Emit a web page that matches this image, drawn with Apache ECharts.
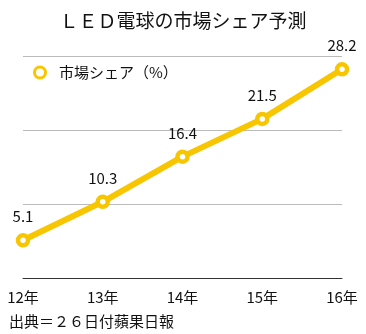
<!DOCTYPE html>
<html>
<head>
<meta charset="utf-8">
<script src="https://cdn.jsdelivr.net/npm/echarts@6/dist/echarts.min.js"></script>
<style>
  html, body { margin: 0; padding: 0; background: #fff; }
  #chart { width: 366px; height: 334px; }
</style>
</head>
<body>
<div id="chart"></div>
<script>
// LED bulb market share forecast (%)
const years = ['12年', '13年', '14年', '15年', '16年'];
const share = [5.1, 10.3, 16.4, 21.5, 28.2];
const seriesName = '市場シェア（%）';
const titleText = 'ＬＥＤ電球の市場シェア予測';
const sourceText = '出典＝２６日付蘋果日報';

const FONT = '"Noto Sans CJK JP", "Noto Sans", sans-serif';
const GOLD = '#F7C600';

const chart = echarts.init(document.getElementById('chart'), null, { renderer: 'canvas' });
chart.setOption({
  backgroundColor: '#fff',
  animation: false,
  textStyle: { fontFamily: FONT },
  title: [
    {
      text: titleText,
      left: 'center',
      top: 6,
      textStyle: { fontFamily: FONT, fontSize: 19, fontWeight: 'normal', color: '#111' }
    },
    {
      text: sourceText,
      left: 4,
      top: 309,
      textStyle: { fontFamily: FONT, fontSize: 15, fontWeight: 'normal', color: '#111' }
    }
  ],
  legend: {
    left: 28,
    top: 60,
    itemWidth: 28,
    itemHeight: 11,
    symbolKeepAspect: true,
    data: [{ name: seriesName, icon: 'circle' }],
    itemStyle: { color: '#fff', borderColor: GOLD, borderWidth: 3 },
    lineStyle: { width: 0 },
    textStyle: { fontFamily: FONT, fontSize: 15, color: '#111' }
  },
  grid: { left: 23, right: 24, top: 56, bottom: 56 },
  xAxis: {
    type: 'category',
    data: years,
    boundaryGap: false,
    axisLine: { lineStyle: { color: '#333', width: 1 } },
    axisTick: { show: false },
    axisLabel: { color: '#111', fontSize: 15, fontFamily: FONT, margin: 12 }
  },
  yAxis: {
    type: 'value',
    min: 0,
    max: 30,
    interval: 10,
    axisLine: { show: false },
    axisTick: { show: false },
    axisLabel: { show: false },
    splitLine: { lineStyle: { color: '#bbb', width: 1 } }
  },
  series: [{
    name: seriesName,
    type: 'line',
    data: share,
    symbol: 'circle',
    symbolSize: 10,
    lineStyle: { color: GOLD, width: 6 },
    itemStyle: { color: '#fff', borderColor: GOLD, borderWidth: 4.5 },
    label: {
      show: true,
      position: 'top',
      distance: 9,
      color: '#111',
      fontSize: 15,
      fontFamily: FONT
    }
  }]
});
</script>
</body>
</html>
